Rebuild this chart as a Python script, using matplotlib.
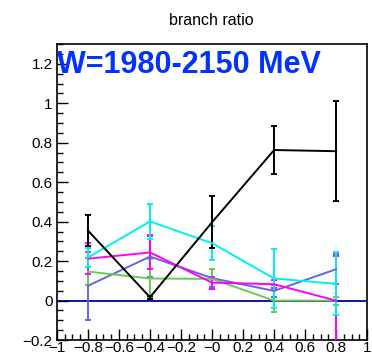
import numpy as np
import matplotlib.pyplot as plt
from matplotlib.ticker import MultipleLocator

cos_theta = [-0.8, -0.4, 0.0, 0.4, 0.8]

black = [0.355, 0.017, 0.397, 0.763, 0.757]
black_err = [0.078, 0.008, 0.131, 0.124, 0.253]
cyan = [0.218, 0.401, 0.291, 0.112, 0.085]
cyan_err = [0.046, 0.088, 0.085, 0.150, 0.160]
magenta = [0.212, 0.244, 0.091, 0.083, 0.0]
magenta_err = [0.078, 0.086, 0.031, 0.020, 0.225]
green = [0.147, 0.112, 0.110, 0.0, 0.0]
green_err = [0.068, 0.100, 0.050, 0.060, 0.020]
purple = [0.075, 0.223, 0.114, 0.049, 0.159]
purple_err = [0.172, 0.103, 0.047, 0.030, 0.077]

series = [
    (purple, purple_err, '#6666dd'),
    (green, green_err, '#66cc55'),
    (magenta, magenta_err, '#ff00ff'),
    (cyan, cyan_err, '#00f0f0'),
    (black, black_err, 'black'),
]

plt.rcParams['font.family'] = ['Liberation Sans', 'DejaVu Sans']
fig = plt.figure(figsize=(3.72, 3.61), dpi=100)
ax = fig.add_axes([0.153, 0.058, 0.834, 0.820])

ax.axhline(0, color='#000099', lw=1.3, zorder=1)
for vals, errs, col in series:
    ax.errorbar(cos_theta, vals, yerr=errs, color=col, lw=1.4, elinewidth=1.4,
                capsize=2.5, capthick=1.4, zorder=3)

ax.set_xlim(-1, 1)
ax.set_ylim(-0.2, 1.3)
ax.xaxis.set_minor_locator(MultipleLocator(0.05))
ax.yaxis.set_minor_locator(MultipleLocator(0.05))
ax.tick_params(which='both', direction='in', top=False, right=False, labelsize=11)
ax.tick_params(axis='x', pad=1)
ax.tick_params(axis='y', pad=3)
ax.tick_params(which='major', length=8, width=1)
ax.tick_params(which='minor', length=4, width=1)

fmt = lambda v: ('%g' % round(v, 2)).replace('-', '\u2212')
xt = np.arange(-1, 1.01, 0.2)
yt = np.arange(-0.2, 1.21, 0.2)
ax.set_xticks(xt)
ax.set_xticklabels([fmt(v) for v in xt])
ax.set_yticks(yt)
ax.set_yticklabels([fmt(v) for v in yt])
for s in ax.spines.values():
    s.set_linewidth(1.2)

fig.text(0.567, 0.943, 'branch ratio', ha='center', va='center', fontsize=11.5)
ax.text(0.0, 0.93, 'W=1980-2150 MeV', transform=ax.transAxes, ha='left', va='center',
        fontsize=22, fontweight='bold', color='#0033ff')

fig.savefig('out.png', dpi=100)
